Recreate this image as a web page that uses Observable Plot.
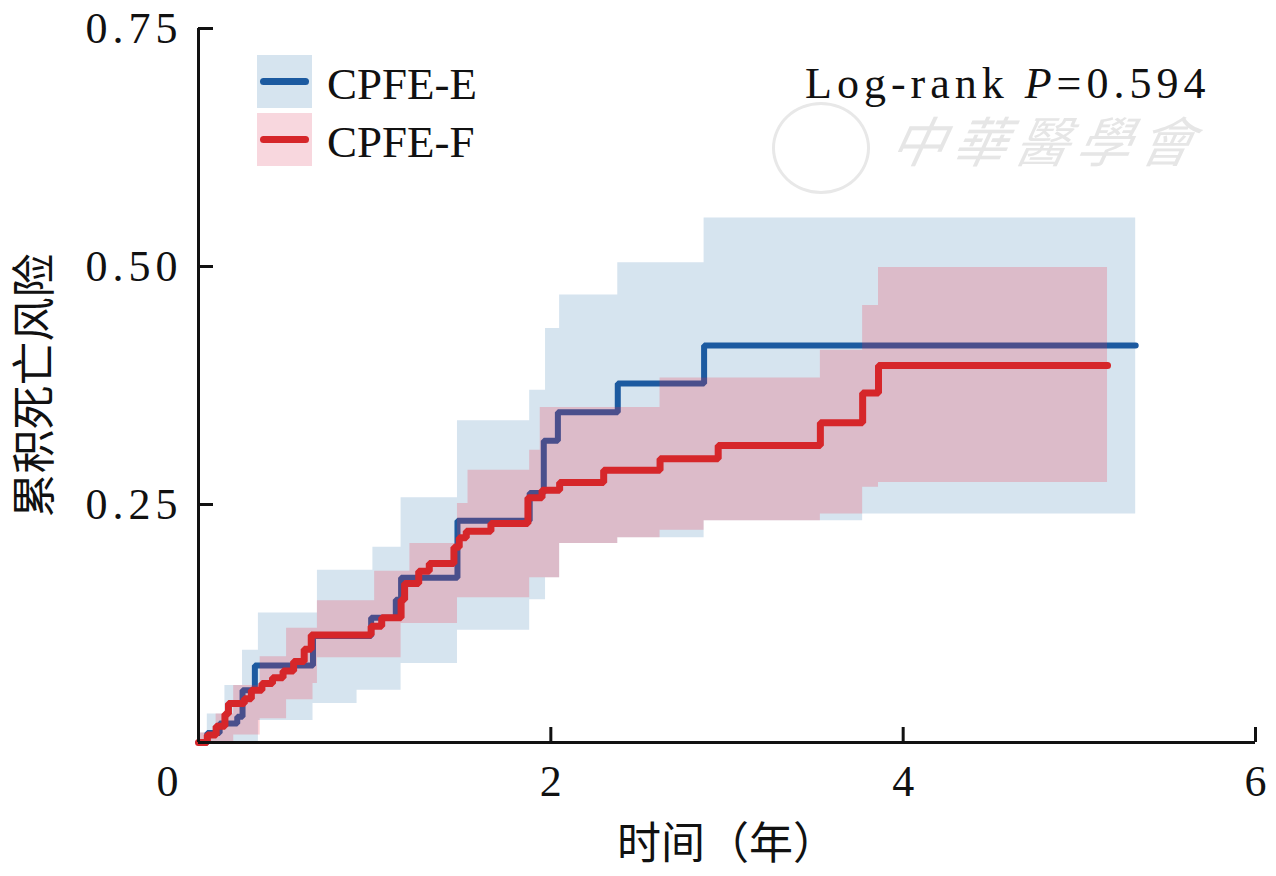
<!DOCTYPE html>
<html>
<head>
<meta charset="utf-8">
<script src="https://cdn.jsdelivr.net/npm/d3@7"></script>
<script src="https://cdn.jsdelivr.net/npm/@observablehq/plot@0.6"></script>
<style>
  html, body { margin: 0; padding: 0; background: #fff; }
  #wrap { position: relative; width: 1276px; height: 876px; overflow: hidden; }
  .lg { position: absolute; font-family: "Liberation Serif", serif; font-size: 45px; color: #111; line-height: 1; white-space: nowrap; }
  .sw { position: absolute; width: 55px; height: 53px; }
  .sw i { position: absolute; left: 3px; right: 3px; top: 23px; height: 7px; border-radius: 4px; }
  #wm { position: absolute; left: 893px; top: 112px; font-family: "Noto Sans CJK TC", sans-serif; font-size: 54px; color: #e6e6e6; letter-spacing: 8px; font-style: italic; line-height: 1; transform: skewX(-12deg); }
  #seal { position: absolute; left: 772px; top: 102px; width: 92px; height: 86px; border: 3px solid #e8e8e8; border-radius: 50%; }
</style>
</head>
<body>
<div id="wrap"></div>
<script>
// ---- data ----
const seriesNames = ["CPFE-E", "CPFE-F"];
const seriesColors = ["#1c5aa0", "#d6262a"];

// CPFE-E cumulative risk (step-after)
const eTime  = [0, 0.05, 0.12, 0.22, 0.25, 0.32, 0.65, 0.98, 1.12, 1.15, 1.47, 1.88, 1.96, 2.04, 2.38, 2.87, 5.32];
const eValue = [0, 0.01, 0.02, 0.027, 0.055, 0.081, 0.112, 0.131, 0.15, 0.173, 0.233, 0.262, 0.317, 0.347, 0.377, 0.417, 0.417];

// CPFE-E confidence band
const eBandTime  = [0, 0.05, 0.15, 0.25, 0.34, 0.65, 0.675, 0.9, 0.99, 1.15, 1.47, 1.88, 1.97, 2.05, 2.38, 2.87, 3.77, 5.32];
const eBandUpper = [0.01, 0.03, 0.06, 0.097, 0.136, 0.136, 0.181, 0.181, 0.205, 0.257, 0.338, 0.37, 0.435, 0.47, 0.504, 0.551, 0.551, 0.551];
const eBandLower = [0, 0, 0, 0, 0.023, 0.041, 0.041, 0.055, 0.055, 0.083, 0.118, 0.15, 0.173, 0.209, 0.215, 0.233, 0.24, 0.24];

// CPFE-F cumulative risk (step-after)
const fTime  = [0, 0.05, 0.10, 0.15, 0.17, 0.26, 0.30, 0.36, 0.42, 0.48, 0.54, 0.60, 0.64, 0.98, 1.04, 1.15, 1.17, 1.25, 1.31, 1.45, 1.48, 1.52, 1.66, 1.87, 1.95, 2.05, 2.30, 2.62, 2.95, 3.53, 3.77, 3.86, 5.16];
const fValue = [0, 0.008, 0.017, 0.03, 0.041, 0.046, 0.055, 0.062, 0.068, 0.075, 0.085, 0.098, 0.113, 0.122, 0.131, 0.15, 0.167, 0.18, 0.188, 0.205, 0.215, 0.222, 0.23, 0.257, 0.265, 0.273, 0.286, 0.298, 0.312, 0.336, 0.367, 0.396, 0.396];

// CPFE-F confidence band
const fBandTime  = [0, 0.1, 0.2, 0.35, 0.5, 0.65, 0.675, 0.9, 1.0, 1.15, 1.2, 1.42, 1.47, 1.53, 1.66, 1.88, 1.94, 2.05, 2.38, 2.62, 2.87, 3.53, 3.77, 3.86, 5.16];
const fBandUpper = [0.01, 0.03, 0.06, 0.09, 0.12, 0.12, 0.149, 0.149, 0.18, 0.18, 0.209, 0.209, 0.251, 0.286, 0.286, 0.307, 0.352, 0.352, 0.352, 0.383, 0.383, 0.412, 0.459, 0.499, 0.499];
const fBandLower = [0, 0, 0.008, 0.025, 0.045, 0.062, 0.089, 0.089, 0.089, 0.125, 0.125, 0.125, 0.152, 0.152, 0.152, 0.173, 0.173, 0.209, 0.215, 0.223, 0.233, 0.24, 0.268, 0.273, 0.273];

const xTicks = [2, 4, 6];
const yTicks = [0.25, 0.5, 0.75];
const xLabel = "时间（年）";
const yLabel = "累积死亡风险";
const pText = "0.594";

// ---- tables ----
const eLine = eTime.map((t, i) => ({t, v: eValue[i]}));
const fLine = fTime.map((t, i) => ({t, v: fValue[i]}));
const eBand = eBandTime.map((t, i) => ({t, lo: eBandLower[i], hi: eBandUpper[i]}));
const fBand = fBandTime.map((t, i) => ({t, lo: fBandLower[i], hi: fBandUpper[i]}));

const chart = Plot.plot({
  width: 1276,
  height: 876,
  marginLeft: 198,
  marginRight: 21,
  marginTop: 28,
  marginBottom: 134,
  x: {domain: [0, 6]},
  y: {domain: [0, 0.75]},
  style: {fontFamily: "'Liberation Serif', 'Noto Sans CJK SC', serif", fontSize: "44px", color: "#111", background: "white", overflow: "visible"},
  marks: [
    Plot.areaY(eBand, {x: "t", y1: "lo", y2: "hi", curve: "step-after", fill: "#d6e4ef"}),
    Plot.line(eLine, {x: "t", y: "v", curve: "step-after", stroke: seriesColors[0], strokeWidth: 6, strokeLinecap: "round", strokeLinejoin: "miter"}),
    Plot.areaY(fBand, {x: "t", y1: "lo", y2: "hi", curve: "step-after", fill: "#f02846", fillOpacity: 0.22}),
    Plot.line(fLine, {x: "t", y: "v", curve: "step-after", stroke: seriesColors[1], strokeWidth: 7, strokeLinecap: "round", strokeLinejoin: "miter"}),
    Plot.ruleX([0], {stroke: "#111", strokeWidth: 3}),
    Plot.ruleY([0], {stroke: "#111", strokeWidth: 3}),
    // inward tick marks
    Plot.axisY(yTicks, {anchor: "left", tickSize: -15, fill: "none", stroke: "#111", strokeWidth: 3, label: null}),
    Plot.axisX(xTicks, {anchor: "bottom", tickSize: -15, fill: "none", stroke: "#111", strokeWidth: 3, label: null}),
    // tick labels + axis titles
    Plot.axisY(yTicks, {anchor: "left", tickSize: 0, tickPadding: 16, stroke: "none", tickFormat: d3.format(".2f"),
      label: yLabel, labelAnchor: "center", labelArrow: "none", labelOffset: 180}),
    Plot.axisX(xTicks, {anchor: "bottom", tickSize: 0, tickPadding: 22, stroke: "none", tickFormat: d => String(d),
      label: xLabel, labelAnchor: "center", labelArrow: "none", labelOffset: 116}),
    Plot.axisX([0], {anchor: "bottom", tickSize: 0, tickPadding: 22, stroke: "none", dx: -31, tickFormat: d => String(d), label: null})
  ]
});

const wrap = document.getElementById("wrap");
wrap.appendChild(chart);

// styling of text: CJK axis titles and spaced y tick labels
d3.select(chart).selectAll("text").each(function() {
  const s = this.textContent;
  if (s === xLabel || s === yLabel) {
    d3.select(this).style("font-size", "44px").style("font-family", "'Noto Sans CJK SC', sans-serif");
  } else if (/^0\.\d\d$/.test(s)) {
    d3.select(this).style("letter-spacing", "5px");
  }
});

// legend
seriesNames.forEach((name, i) => {
  const top = i === 0 ? 55 : 113;
  const sw = document.createElement("div");
  sw.className = "sw";
  sw.style.left = "257px";
  sw.style.top = top + "px";
  sw.style.background = i === 0 ? "#d6e4ef" : "#f8d7de";
  const ln = document.createElement("i");
  ln.style.background = seriesColors[i];
  sw.appendChild(ln);
  wrap.appendChild(sw);
  const lab = document.createElement("div");
  lab.className = "lg";
  lab.style.left = "327px";
  lab.style.top = (top + 7) + "px";
  lab.textContent = name;
  wrap.appendChild(lab);
});

// watermark
const seal = document.createElement("div");
seal.id = "seal";
wrap.appendChild(seal);
const wm = document.createElement("div");
wm.id = "wm";
wm.textContent = "中華醫學會";
wrap.appendChild(wm);

// log-rank annotation
const lr = document.createElement("div");
lr.className = "lg";
lr.style.left = "805px";
lr.style.top = "62px";
lr.style.fontSize = "44px";
lr.style.letterSpacing = "5px";
lr.innerHTML = "Log-rank <i>P</i>=" + pText;
wrap.appendChild(lr);
</script>
</body>
</html>
